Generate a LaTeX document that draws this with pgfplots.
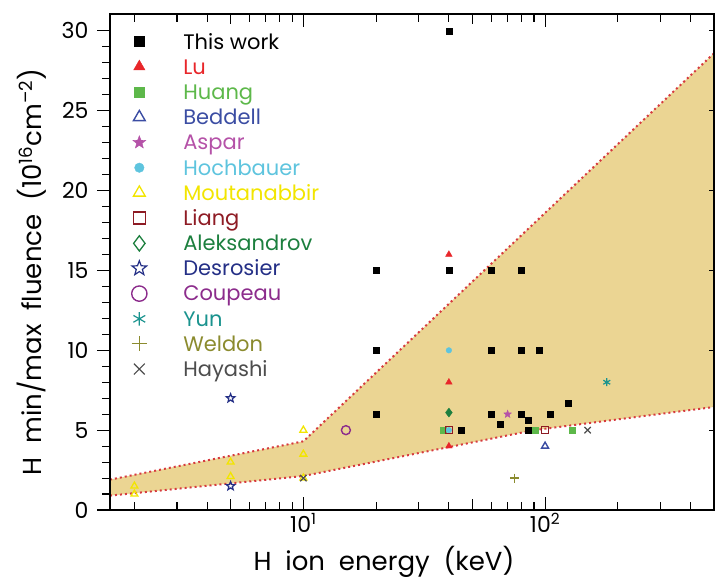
\documentclass[border=0pt]{standalone}
\usepackage{fontspec}
\setmainfont{Poppins}
\usepackage{pgfplots}
\pgfplotsset{compat=1.18}

\definecolor{cFill}{HTML}{EBD593}
\definecolor{cDot}{HTML}{D63A3E}
\definecolor{cLu}{HTML}{E8262A}
\definecolor{cHuang}{HTML}{5DB84A}
\definecolor{cBeddell}{HTML}{3B4DA3}
\definecolor{cAspar}{HTML}{B552A8}
\definecolor{cHoch}{HTML}{5EC4DE}
\definecolor{cMout}{HTML}{F2E500}
\definecolor{cLiang}{HTML}{8E1B24}
\definecolor{cAlek}{HTML}{1C7F3E}
\definecolor{cDes}{HTML}{242F86}
\definecolor{cCoup}{HTML}{8C2C8C}
\definecolor{cYun}{HTML}{1A938E}
\definecolor{cWeld}{HTML}{8B8B2E}
\definecolor{cHaya}{HTML}{4D4D4D}

% five-point stars, open and filled
\pgfdeclareplotmark{ostar}{%
  \pgfpathmoveto{\pgfpointpolar{90}{\pgfplotmarksize}}%
  \pgfpathlineto{\pgfpointpolar{126}{0.42\pgfplotmarksize}}%
  \pgfpathlineto{\pgfpointpolar{162}{\pgfplotmarksize}}%
  \pgfpathlineto{\pgfpointpolar{198}{0.42\pgfplotmarksize}}%
  \pgfpathlineto{\pgfpointpolar{234}{\pgfplotmarksize}}%
  \pgfpathlineto{\pgfpointpolar{270}{0.42\pgfplotmarksize}}%
  \pgfpathlineto{\pgfpointpolar{306}{\pgfplotmarksize}}%
  \pgfpathlineto{\pgfpointpolar{342}{0.42\pgfplotmarksize}}%
  \pgfpathlineto{\pgfpointpolar{18}{\pgfplotmarksize}}%
  \pgfpathlineto{\pgfpointpolar{54}{0.42\pgfplotmarksize}}%
  \pgfpathclose\pgfusepathqstroke}
\pgfdeclareplotmark{fstar}{%
  \pgfpathmoveto{\pgfpointpolar{90}{\pgfplotmarksize}}%
  \pgfpathlineto{\pgfpointpolar{126}{0.42\pgfplotmarksize}}%
  \pgfpathlineto{\pgfpointpolar{162}{\pgfplotmarksize}}%
  \pgfpathlineto{\pgfpointpolar{198}{0.42\pgfplotmarksize}}%
  \pgfpathlineto{\pgfpointpolar{234}{\pgfplotmarksize}}%
  \pgfpathlineto{\pgfpointpolar{270}{0.42\pgfplotmarksize}}%
  \pgfpathlineto{\pgfpointpolar{306}{\pgfplotmarksize}}%
  \pgfpathlineto{\pgfpointpolar{342}{0.42\pgfplotmarksize}}%
  \pgfpathlineto{\pgfpointpolar{18}{\pgfplotmarksize}}%
  \pgfpathlineto{\pgfpointpolar{54}{0.42\pgfplotmarksize}}%
  \pgfpathclose\pgfusepathqfillstroke}

\newcommand\lgd[2]{\textcolor{#1}{\rule[-5pt]{0pt}{25pt}#2}}

\begin{document}
\begin{tikzpicture}
\begin{axis}[
  scale only axis, width=604pt, height=496pt,
  xmode=log, xmin=1.585, xmax=500, ymin=0, ymax=31.06,
  axis on top,
  font=\fontsize{26}{30}\selectfont,
  tick label style={font=\fontsize{22}{24}\selectfont},
  yticklabel style={xshift=-5pt},
  /pgf/number format/assume math mode=true,
  xtick={10,100}, xticklabels={10\textsuperscript{1},10\textsuperscript{2}},
  minor xtick={2,3,4,6,7,8,9,20,30,40,60,70,80,90,200,300,400},
  extra x ticks={5,50,500}, extra x tick labels={},
  extra x tick style={major tick length=10.5pt},
  xtick pos=both, xtick align=inside,
  ytick={0,5,...,30}, minor ytick={1,...,29},
  ytick pos=left, ytick align=outside,
  major tick length=13pt, minor tick length=8pt,
  tick style={black, line width=1.1pt},
  axis line style={line width=1.6pt},
  xlabel={H\ \ ion\ \ energy\ \ (keV)},
  ylabel={H\ \ min/max\ \ fluence\ \ (10\textsuperscript{16}cm\textsuperscript{–2})},
  every axis x label/.style={at={(axis description cs:0.4536,-0.104)}, anchor=center},
  every axis y label/.style={at={(axis description cs:-0.129,0.48)}, anchor=center, rotate=90},
  legend image code/.code={\path[draw=none,fill=none] (-8pt,0pt) rectangle (8pt,0pt);
    \draw[#1] plot coordinates {(0pt,0pt)};},
  legend image post style={every mark/.append style={scale=1.7}},
  legend cell align=left,
  legend style={draw=none, fill=none, at={(0.035,0.97)}, anchor=north west,
    inner sep=0pt, row sep=0pt, column sep=36pt,
    nodes={inner sep=0pt, text depth={}},
    font=\fontsize{21}{24}\selectfont},
]
% shaded band
\addplot[forget plot, fill=cFill, draw=none] coordinates {
  (1.585,0.9) (10,2.13) (90,5.0) (500,6.45) (500,28.6) (10,4.3) (1.585,1.9)} -- cycle;
\addplot[forget plot, cDot, line width=2pt, dash pattern=on 2pt off 3pt]
  coordinates {(1.585,0.9) (10,2.13) (90,5.0) (500,6.45)};
\addplot[forget plot, cDot, line width=2pt, dash pattern=on 2pt off 3pt]
  coordinates {(1.585,1.9) (10,4.3) (500,28.6)};

\addplot[only marks, mark=square*, mark size=3pt, black] coordinates {
  (20,15) (20,10) (20,6) (40,30) (40,15) (45,5) (60,15) (60,10) (60,6)
  (65,5.4) (80,15) (80,10) (80,6) (85,5.6) (85,5) (95,10) (105,6) (125,6.7)};
\addlegendentry{\lgd{black}{This work}}
\addplot[only marks, mark=triangle*, mark size=3.8pt, cLu] coordinates {
  (40,16) (40,8) (40,4)};
\addlegendentry{\lgd{cLu}{Lu}}
\addplot[only marks, mark=square*, mark size=3pt, cHuang] coordinates {
  (38,5) (91,5) (130,5)};
\addlegendentry{\lgd{cHuang}{Huang}}
\addplot[only marks, mark=triangle, mark size=4pt, line width=1.4pt, cBeddell] coordinates {
  (100,4)};
\addlegendentry{\lgd{cBeddell}{Beddell}}
\addplot[only marks, mark=fstar, mark size=4pt, cAspar] coordinates {
  (70,6)};
\addlegendentry{\lgd{cAspar}{Aspar}}
\addplot[only marks, mark=*, mark size=2.8pt, cHoch] coordinates {
  (40,10) (40,5)};
\addlegendentry{\lgd{cHoch}{Hochbauer}}
\addplot[only marks, mark=triangle, mark size=4pt, line width=1.3pt, cMout] coordinates {
  (2,1.5) (2,1) (5,3) (5,2.1) (10,5) (10,3.5) (10,2)};
\addlegendentry{\lgd{cMout}{Moutanabbir}}
\addplot[only marks, mark=square, mark size=3.5pt, line width=1.4pt, cLiang] coordinates {
  (40,5) (100,5)};
\addlegendentry{\lgd{cLiang}{Liang}}
\addplot[only marks, mark=diamond*, mark size=4.5pt, cAlek,
  legend image post style={mark=diamond, line width=1.3pt}] coordinates {
  (40,6.1)};
\addlegendentry{\lgd{cAlek}{Aleksandrov}}
\addplot[only marks, mark=ostar, mark size=4.5pt, line width=1.2pt, cDes] coordinates {
  (5,7) (5,1.5)};
\addlegendentry{\lgd{cDes}{Desrosier}}
\addplot[only marks, mark=o, mark size=4.5pt, line width=1.4pt, cCoup] coordinates {
  (15,5)};
\addlegendentry{\lgd{cCoup}{Coupeau}}
\addplot[only marks, mark=asterisk, mark size=4pt, line width=1.2pt, cYun] coordinates {
  (180,8)};
\addlegendentry{\lgd{cYun}{Yun}}
\addplot[only marks, mark=+, mark size=4.5pt, line width=1.2pt, cWeld] coordinates {
  (75,2)};
\addlegendentry{\lgd{cWeld}{Weldon}}
\addplot[only marks, mark=x, mark size=4.5pt, line width=1.2pt, cHaya] coordinates {
  (150,5) (10,2)};
\addlegendentry{\lgd{cHaya}{Hayashi}}
\end{axis}
% inward ticks on the right side
\begin{axis}[
  scale only axis, width=604pt, height=496pt,
  xmode=log, xmin=1.585, xmax=500, ymin=0, ymax=31.06,
  hide x axis, axis y line*=right,
  ytick={5,10,...,30}, yticklabels={},
  ytick align=inside, major tick length=5pt,
  tick style={black, line width=1.1pt},
  axis line style={line width=1.6pt},
]
\end{axis}
\pgfresetboundingbox
\path[use as bounding box] ([xshift=-110pt,yshift=-71pt]current axis.south west)
  rectangle ([xshift=1pt,yshift=14pt]current axis.north east);
\end{tikzpicture}
\end{document}
